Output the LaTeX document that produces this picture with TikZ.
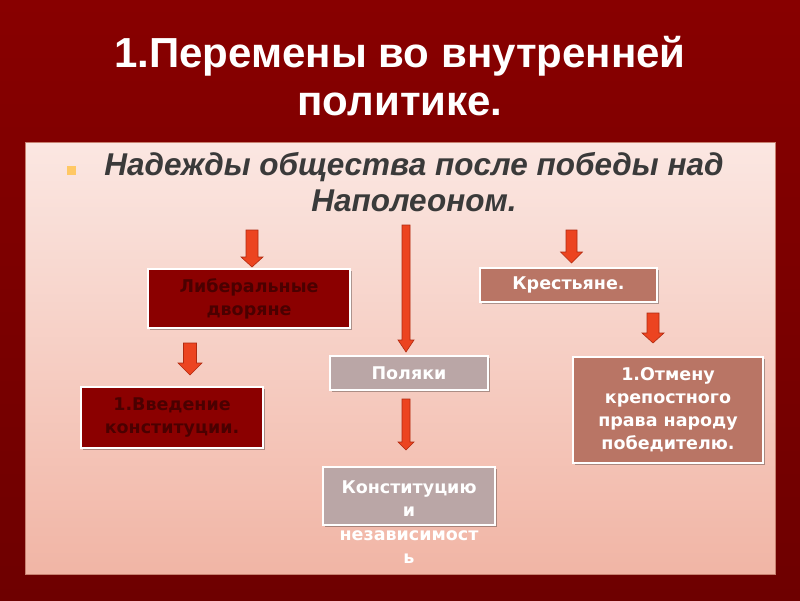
\documentclass[tikz,border=0pt]{standalone}
\usepackage{fontspec}
\setmainfont{Liberation Sans}
\newfontfamily\boxfont{DejaVu Sans}
\usetikzlibrary{shadows}
\definecolor{bgtop}{HTML}{880000}
\definecolor{bgbot}{HTML}{6E0000}
\definecolor{pantop}{HTML}{FBE7E2}
\definecolor{panbot}{HTML}{F1B5A5}
\definecolor{panborder}{HTML}{C88070}
\definecolor{darkbox}{HTML}{8B0000}
\definecolor{darktext}{HTML}{4A0000}
\definecolor{rosebox}{HTML}{B97565}
\definecolor{greybox}{HTML}{BAA6A6}
\definecolor{arrfill}{HTML}{EC4420}
\definecolor{arrdraw}{HTML}{B02A10}
\definecolor{bulletcol}{HTML}{FFC864}
\definecolor{subtext}{HTML}{3A3A3A}
\newcommand\blkarrow[6]{%
  \filldraw[arrowshape] (#1-#4,#2) -- (#1+#4,#2) -- (#1+#4,#3-#6) -- (#1+#5,#3-#6)
    -- (#1,#3) -- (#1-#5,#3-#6) -- (#1-#4,#3-#6) -- cycle;}
\begin{document}
\begin{tikzpicture}[x=1pt,y=-1pt,
  arrowshape/.style={fill=arrfill, draw=arrdraw, line width=0.6pt},
  boxbase/.style={rectangle, draw=white, line width=2.5pt, inner sep=2pt,
    align=center, font=\boxfont\bfseries\fontsize{17.5}{23}\selectfont,
    drop shadow={shadow xshift=1.5pt, shadow yshift=-1.5pt, opacity=0.3, fill=black}},
  darkbox/.style={boxbase, fill=darkbox, text=darktext},
  rosebox/.style={boxbase, fill=rosebox, text=white},
  greybox/.style={boxbase, fill=greybox, text=white}]
\useasboundingbox (0,0) rectangle (800,600);
\shade[top color=bgtop, bottom color=bgbot] (0,0) rectangle (800,600);
\shade[top color=pantop, bottom color=panbot, draw=panborder, line width=1pt] (25,142) rectangle (775,574);

\node[font=\bfseries\fontsize{42}{48}\selectfont, text=white, align=center] (title) at (400,76)
  {1.Перемены во внутренней\\политике.};
\fill[bulletcol] (67,166) rectangle (76,175);
\node[font=\bfseries\itshape\fontsize{31.5}{36}\selectfont, text=subtext, align=center] (sub) at (414,182)
  {Надежды общества после победы над\\Наполеоном.};

\node[darkbox, minimum width=202pt, minimum height=59pt] (lib) at (249,298.5) {Либеральные\\дворяне};
\node[darkbox, minimum width=182pt, minimum height=61pt] (vved) at (172,417.5) {1.Введение\\конституции.};
\node[rosebox, minimum width=177pt, minimum height=34pt] (krest) at (568.5,285) {Крестьяне.};
\node[rosebox, minimum width=190pt, minimum height=106pt] (otm) at (668,410) {1.Отмену\\крепостного\\права народу\\победителю.};
\node[greybox, minimum width=158pt, minimum height=34pt] (pol) at (409,373) {Поляки};
\node[greybox, minimum width=172pt, minimum height=58pt] (konst) at (409,496) {};
\node[font=\boxfont\bfseries\fontsize{17.5}{23.5}\selectfont, text=white, align=center] (konsttext) at (409,522)
  {Конституцию\\и\\независимост\\ь};

\blkarrow{252}{230}{267}{6}{11}{10}
\blkarrow{406}{225}{352}{4}{8}{12}
\blkarrow{571.5}{230}{263}{5.5}{11}{11}
\blkarrow{190}{343}{375}{6.5}{12}{12}
\blkarrow{653}{313}{343}{6}{11}{10}
\blkarrow{406}{399}{450}{4}{8}{8}
\end{tikzpicture}
\end{document}
